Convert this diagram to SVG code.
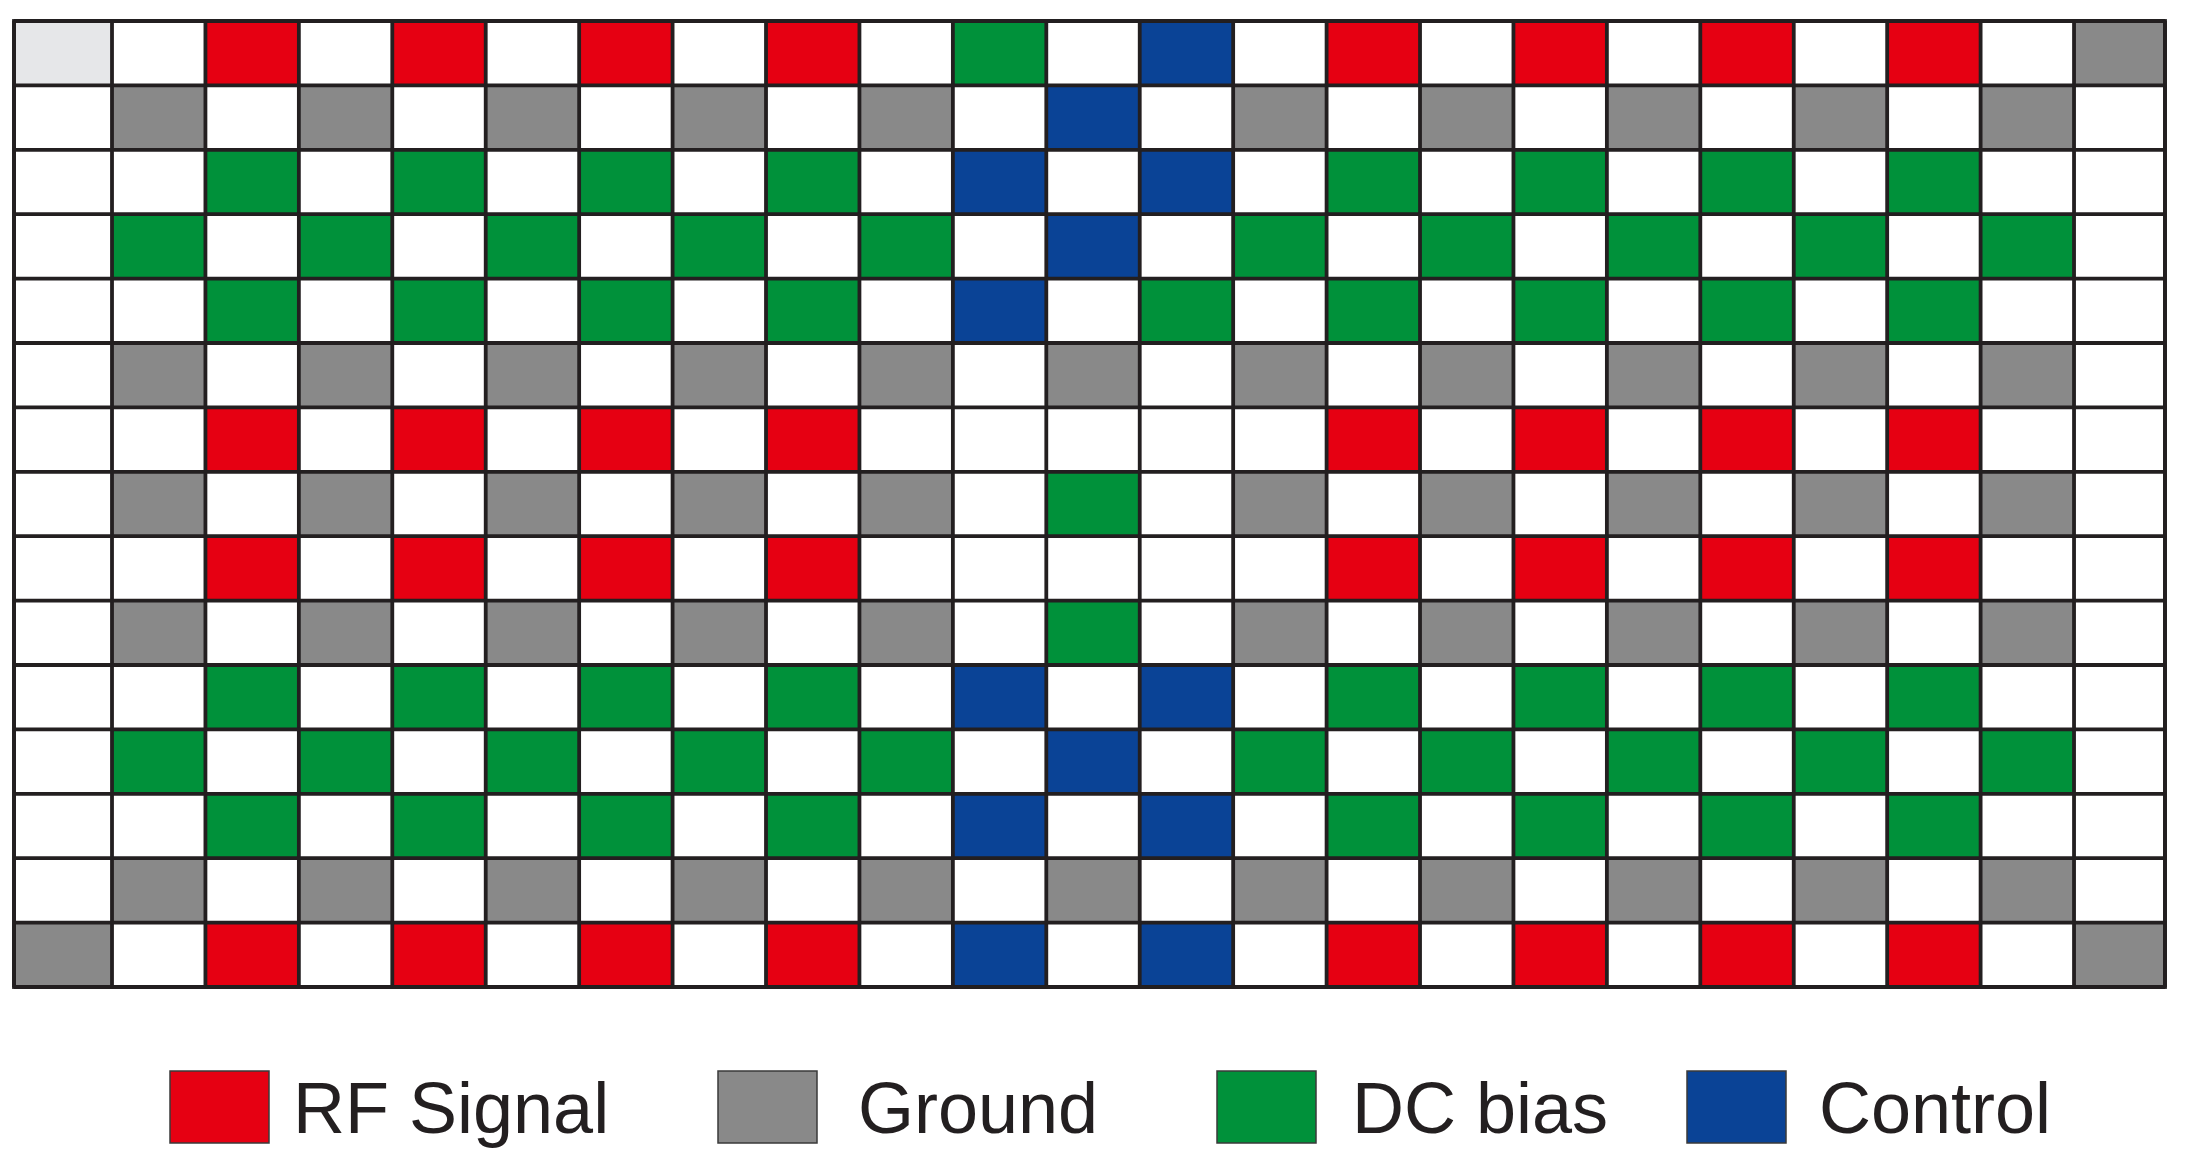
<svg xmlns="http://www.w3.org/2000/svg" width="2186" height="1161" viewBox="0 0 2186 1161">
<style>
.R{fill:#e60012}.G{fill:#898989}.D{fill:#00913a}.B{fill:#0a4396}.L{fill:#e6e7e9}
.grid{fill:none;stroke:#231f20;stroke-width:3.8}
.leg{stroke:#3a3a3a;stroke-width:1.5}
.lt{font-family:"Liberation Sans",Arial,sans-serif;font-size:72px;fill:#231f20}
</style>
<defs>
<rect id="c" width="93.43" height="64.4"/>
<rect id="c0" width="98" height="64.4"/>
<rect id="c22" width="91" height="64.4"/>
</defs>
<rect width="2186" height="1161" fill="#ffffff"/>
<g id="cells">
<!-- row 0 -->
<use href="#c0" class="L" x="14" y="21"/>
<use href="#c" class="R" x="205.43" y="21"/><use href="#c" class="R" x="392.29" y="21"/><use href="#c" class="R" x="579.15" y="21"/><use href="#c" class="R" x="766.01" y="21"/>
<use href="#c" class="D" x="952.87" y="21"/><use href="#c" class="B" x="1139.73" y="21"/>
<use href="#c" class="R" x="1326.59" y="21"/><use href="#c" class="R" x="1513.45" y="21"/><use href="#c" class="R" x="1700.31" y="21"/><use href="#c" class="R" x="1887.17" y="21"/>
<use href="#c22" class="G" x="2074.03" y="21"/>
<!-- row 1 -->
<use href="#c" class="G" x="112" y="85.4"/><use href="#c" class="G" x="298.86" y="85.4"/><use href="#c" class="G" x="485.72" y="85.4"/><use href="#c" class="G" x="672.58" y="85.4"/><use href="#c" class="G" x="859.44" y="85.4"/>
<use href="#c" class="B" x="1046.3" y="85.4"/>
<use href="#c" class="G" x="1233.16" y="85.4"/><use href="#c" class="G" x="1420.02" y="85.4"/><use href="#c" class="G" x="1606.88" y="85.4"/><use href="#c" class="G" x="1793.74" y="85.4"/><use href="#c" class="G" x="1980.6" y="85.4"/>
<!-- row 2 -->
<use href="#c" class="D" x="205.43" y="149.8"/><use href="#c" class="D" x="392.29" y="149.8"/><use href="#c" class="D" x="579.15" y="149.8"/><use href="#c" class="D" x="766.01" y="149.8"/>
<use href="#c" class="B" x="952.87" y="149.8"/><use href="#c" class="B" x="1139.73" y="149.8"/>
<use href="#c" class="D" x="1326.59" y="149.8"/><use href="#c" class="D" x="1513.45" y="149.8"/><use href="#c" class="D" x="1700.31" y="149.8"/><use href="#c" class="D" x="1887.17" y="149.8"/>
<!-- row 3 -->
<use href="#c" class="D" x="112" y="214.2"/><use href="#c" class="D" x="298.86" y="214.2"/><use href="#c" class="D" x="485.72" y="214.2"/><use href="#c" class="D" x="672.58" y="214.2"/><use href="#c" class="D" x="859.44" y="214.2"/>
<use href="#c" class="B" x="1046.3" y="214.2"/>
<use href="#c" class="D" x="1233.16" y="214.2"/><use href="#c" class="D" x="1420.02" y="214.2"/><use href="#c" class="D" x="1606.88" y="214.2"/><use href="#c" class="D" x="1793.74" y="214.2"/><use href="#c" class="D" x="1980.6" y="214.2"/>
<!-- row 4 -->
<use href="#c" class="D" x="205.43" y="278.6"/><use href="#c" class="D" x="392.29" y="278.6"/><use href="#c" class="D" x="579.15" y="278.6"/><use href="#c" class="D" x="766.01" y="278.6"/>
<use href="#c" class="B" x="952.87" y="278.6"/><use href="#c" class="D" x="1139.73" y="278.6"/>
<use href="#c" class="D" x="1326.59" y="278.6"/><use href="#c" class="D" x="1513.45" y="278.6"/><use href="#c" class="D" x="1700.31" y="278.6"/><use href="#c" class="D" x="1887.17" y="278.6"/>
<!-- row 5 -->
<use href="#c" class="G" x="112" y="343"/><use href="#c" class="G" x="298.86" y="343"/><use href="#c" class="G" x="485.72" y="343"/><use href="#c" class="G" x="672.58" y="343"/><use href="#c" class="G" x="859.44" y="343"/>
<use href="#c" class="G" x="1046.3" y="343"/>
<use href="#c" class="G" x="1233.16" y="343"/><use href="#c" class="G" x="1420.02" y="343"/><use href="#c" class="G" x="1606.88" y="343"/><use href="#c" class="G" x="1793.74" y="343"/><use href="#c" class="G" x="1980.6" y="343"/>
<!-- row 6 -->
<use href="#c" class="R" x="205.43" y="407.4"/><use href="#c" class="R" x="392.29" y="407.4"/><use href="#c" class="R" x="579.15" y="407.4"/><use href="#c" class="R" x="766.01" y="407.4"/>
<use href="#c" class="R" x="1326.59" y="407.4"/><use href="#c" class="R" x="1513.45" y="407.4"/><use href="#c" class="R" x="1700.31" y="407.4"/><use href="#c" class="R" x="1887.17" y="407.4"/>
<!-- row 7 -->
<use href="#c" class="G" x="112" y="471.8"/><use href="#c" class="G" x="298.86" y="471.8"/><use href="#c" class="G" x="485.72" y="471.8"/><use href="#c" class="G" x="672.58" y="471.8"/><use href="#c" class="G" x="859.44" y="471.8"/>
<use href="#c" class="D" x="1046.3" y="471.8"/>
<use href="#c" class="G" x="1233.16" y="471.8"/><use href="#c" class="G" x="1420.02" y="471.8"/><use href="#c" class="G" x="1606.88" y="471.8"/><use href="#c" class="G" x="1793.74" y="471.8"/><use href="#c" class="G" x="1980.6" y="471.8"/>
<!-- row 8 -->
<use href="#c" class="R" x="205.43" y="536.2"/><use href="#c" class="R" x="392.29" y="536.2"/><use href="#c" class="R" x="579.15" y="536.2"/><use href="#c" class="R" x="766.01" y="536.2"/>
<use href="#c" class="R" x="1326.59" y="536.2"/><use href="#c" class="R" x="1513.45" y="536.2"/><use href="#c" class="R" x="1700.31" y="536.2"/><use href="#c" class="R" x="1887.17" y="536.2"/>
<!-- row 9 -->
<use href="#c" class="G" x="112" y="600.6"/><use href="#c" class="G" x="298.86" y="600.6"/><use href="#c" class="G" x="485.72" y="600.6"/><use href="#c" class="G" x="672.58" y="600.6"/><use href="#c" class="G" x="859.44" y="600.6"/>
<use href="#c" class="D" x="1046.3" y="600.6"/>
<use href="#c" class="G" x="1233.16" y="600.6"/><use href="#c" class="G" x="1420.02" y="600.6"/><use href="#c" class="G" x="1606.88" y="600.6"/><use href="#c" class="G" x="1793.74" y="600.6"/><use href="#c" class="G" x="1980.6" y="600.6"/>
<!-- row 10 -->
<use href="#c" class="D" x="205.43" y="665"/><use href="#c" class="D" x="392.29" y="665"/><use href="#c" class="D" x="579.15" y="665"/><use href="#c" class="D" x="766.01" y="665"/>
<use href="#c" class="B" x="952.87" y="665"/><use href="#c" class="B" x="1139.73" y="665"/>
<use href="#c" class="D" x="1326.59" y="665"/><use href="#c" class="D" x="1513.45" y="665"/><use href="#c" class="D" x="1700.31" y="665"/><use href="#c" class="D" x="1887.17" y="665"/>
<!-- row 11 -->
<use href="#c" class="D" x="112" y="729.4"/><use href="#c" class="D" x="298.86" y="729.4"/><use href="#c" class="D" x="485.72" y="729.4"/><use href="#c" class="D" x="672.58" y="729.4"/><use href="#c" class="D" x="859.44" y="729.4"/>
<use href="#c" class="B" x="1046.3" y="729.4"/>
<use href="#c" class="D" x="1233.16" y="729.4"/><use href="#c" class="D" x="1420.02" y="729.4"/><use href="#c" class="D" x="1606.88" y="729.4"/><use href="#c" class="D" x="1793.74" y="729.4"/><use href="#c" class="D" x="1980.6" y="729.4"/>
<!-- row 12 -->
<use href="#c" class="D" x="205.43" y="793.8"/><use href="#c" class="D" x="392.29" y="793.8"/><use href="#c" class="D" x="579.15" y="793.8"/><use href="#c" class="D" x="766.01" y="793.8"/>
<use href="#c" class="B" x="952.87" y="793.8"/><use href="#c" class="B" x="1139.73" y="793.8"/>
<use href="#c" class="D" x="1326.59" y="793.8"/><use href="#c" class="D" x="1513.45" y="793.8"/><use href="#c" class="D" x="1700.31" y="793.8"/><use href="#c" class="D" x="1887.17" y="793.8"/>
<!-- row 13 -->
<use href="#c" class="G" x="112" y="858.2"/><use href="#c" class="G" x="298.86" y="858.2"/><use href="#c" class="G" x="485.72" y="858.2"/><use href="#c" class="G" x="672.58" y="858.2"/><use href="#c" class="G" x="859.44" y="858.2"/>
<use href="#c" class="G" x="1046.3" y="858.2"/>
<use href="#c" class="G" x="1233.16" y="858.2"/><use href="#c" class="G" x="1420.02" y="858.2"/><use href="#c" class="G" x="1606.88" y="858.2"/><use href="#c" class="G" x="1793.74" y="858.2"/><use href="#c" class="G" x="1980.6" y="858.2"/>
<!-- row 14 -->
<use href="#c0" class="G" x="14" y="922.6"/>
<use href="#c" class="R" x="205.43" y="922.6"/><use href="#c" class="R" x="392.29" y="922.6"/><use href="#c" class="R" x="579.15" y="922.6"/><use href="#c" class="R" x="766.01" y="922.6"/>
<use href="#c" class="B" x="952.87" y="922.6"/><use href="#c" class="B" x="1139.73" y="922.6"/>
<use href="#c" class="R" x="1326.59" y="922.6"/><use href="#c" class="R" x="1513.45" y="922.6"/><use href="#c" class="R" x="1700.31" y="922.6"/><use href="#c" class="R" x="1887.17" y="922.6"/>
<use href="#c22" class="G" x="2074.03" y="922.6"/>
</g>
<g id="gridlines">
<path class="grid" d="M14 21V987M112 21V987M205.43 21V987M298.86 21V987M392.29 21V987M485.72 21V987M579.15 21V987M672.58 21V987M766.01 21V987M859.44 21V987M952.87 21V987M1046.3 21V987M1139.73 21V987M1233.16 21V987M1326.59 21V987M1420.02 21V987M1513.45 21V987M1606.88 21V987M1700.31 21V987M1793.74 21V987M1887.17 21V987M1980.6 21V987M2074.03 21V987M2165 21V987"/>
<path class="grid" d="M14 21H2165M14 85.4H2165M14 149.8H2165M14 214.2H2165M14 278.6H2165M14 343H2165M14 407.4H2165M14 471.8H2165M14 536.2H2165M14 600.6H2165M14 665H2165M14 729.4H2165M14 793.8H2165M14 858.2H2165M14 922.6H2165M14 987H2165"/>
<rect class="grid" x="14" y="21" width="2151" height="966" stroke-width="4.5"/>
</g>
<g id="legend">
<g id="leg-rf"><rect class="R leg" x="170" y="1071" width="99" height="72"/><text class="lt" x="293" y="1133">RF Signal</text></g>
<g id="leg-gnd"><rect class="G leg" x="718" y="1071" width="99" height="72"/><text class="lt" x="858" y="1133">Ground</text></g>
<g id="leg-dc"><rect class="D leg" x="1217" y="1071" width="99" height="72"/><text class="lt" x="1352" y="1133">DC bias</text></g>
<g id="leg-ctl"><rect class="B leg" x="1687" y="1071" width="99" height="72"/><text class="lt" x="1819" y="1133">Control</text></g>
</g>
</svg>
